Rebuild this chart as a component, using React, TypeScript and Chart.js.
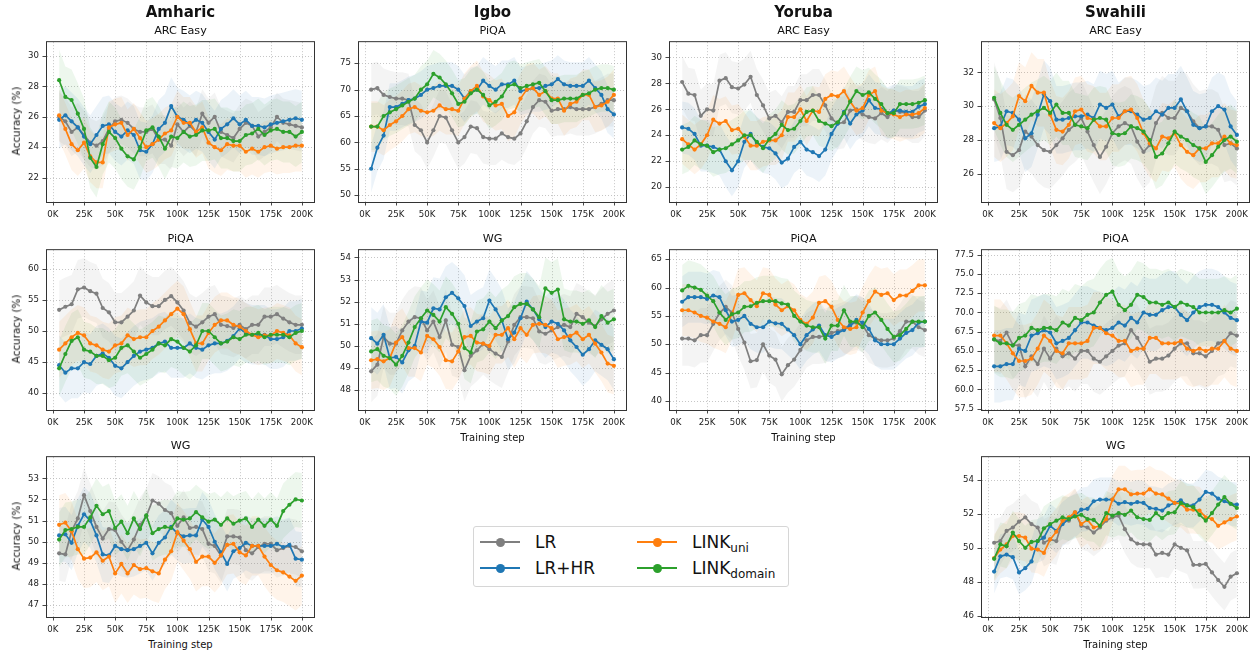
import React, { useEffect, useRef } from 'react';
import { Chart, registerables } from 'chart.js';

Chart.register(...registerables);

// ---------------- data ----------------
const steps = [5, 10, 15, 20, 25, 30, 35, 40, 45, 50, 55, 60, 65, 70, 75, 80, 85, 90, 95, 100,
  105, 110, 115, 120, 125, 130, 135, 140, 145, 150, 155, 160, 165, 170, 175, 180, 185, 190, 195, 200];
const xTickValues = [0, 25, 50, 75, 100, 125, 150, 175, 200];
const xTickLabels = ['0K', '25K', '50K', '75K', '100K', '125K', '150K', '175K', '200K'];
const seriesColors = ['#7f7f7f', '#1f77b4', '#ff7f0e', '#2ca02c'];
const languages = ['Amharic', 'Igbo', 'Yoruba', 'Swahili'];

// Amharic ARC Easy
const amhArcLR = [26.0, 25.7, 25.0, 25.3, 24.8, 24.3, 24.1, 24.4, 25.2, 25.7, 25.8, 25.6, 25.2, 25.0, 25.0, 25.2, 24.5, 24.5, 24.1, 25.5, 25.0, 25.4, 25.0, 26.2, 25.6, 26.0, 25.0, 24.8, 24.6, 25.2, 25.6, 25.4, 24.7, 25.0, 25.3, 26.0, 25.6, 25.5, 25.4, 25.3];
const amhArcLRHR = [25.8, 26.1, 25.7, 25.3, 24.7, 24.2, 24.8, 25.4, 25.5, 25.0, 24.7, 25.1, 24.8, 23.8, 23.7, 24.2, 25.2, 25.6, 26.7, 26.0, 25.8, 25.5, 25.8, 25.6, 25.0, 24.5, 25.2, 25.5, 25.9, 25.5, 25.8, 25.4, 25.4, 25.3, 25.5, 25.6, 25.7, 25.8, 25.9, 25.8];
const amhArcUni = [26.1, 25.2, 24.2, 23.8, 24.3, 23.4, 23.0, 23.0, 25.3, 25.5, 25.6, 24.8, 25.2, 24.6, 24.0, 24.2, 24.5, 24.9, 25.1, 26.0, 25.6, 25.6, 25.0, 25.3, 24.3, 24.0, 23.8, 24.2, 24.1, 24.1, 23.7, 23.9, 23.7, 24.0, 24.1, 23.9, 24.0, 24.0, 24.1, 24.1];
const amhArcDom = [28.4, 27.3, 27.1, 26.2, 25.2, 23.3, 22.7, 24.2, 25.0, 24.6, 23.9, 23.4, 23.2, 24.0, 25.1, 25.3, 24.7, 23.9, 24.7, 24.6, 25.0, 24.7, 24.8, 25.1, 25.1, 25.2, 24.6, 24.6, 24.4, 24.4, 24.8, 24.9, 25.2, 24.8, 25.1, 25.2, 25.0, 25.0, 24.7, 25.0];

// Igbo PiQA
const igbPiqaLR = [70.0, 70.3, 69.0, 68.6, 68.3, 68.3, 68.0, 63.3, 62.3, 60.0, 62.3, 65.0, 64.7, 62.3, 60.0, 61.0, 63.0, 62.7, 61.0, 60.7, 60.7, 61.7, 61.0, 60.7, 61.7, 64.0, 66.7, 68.0, 67.7, 66.0, 66.3, 66.3, 66.7, 66.3, 66.3, 66.3, 66.7, 67.3, 68.0, 68.0];
const igbPiqaLRHR = [55.0, 59.0, 61.3, 66.7, 66.7, 67.3, 68.0, 68.3, 69.0, 70.0, 70.3, 70.7, 70.7, 70.7, 70.0, 68.3, 69.7, 70.0, 71.7, 70.7, 70.0, 71.0, 71.0, 71.7, 69.7, 70.0, 70.3, 70.3, 70.7, 71.0, 72.0, 71.0, 70.7, 70.7, 70.7, 71.7, 70.3, 69.0, 66.3, 65.3];
const igbPiqaUni = [63.0, 63.0, 62.3, 63.3, 64.0, 65.0, 66.3, 66.7, 66.0, 65.7, 66.0, 67.0, 66.3, 66.3, 66.0, 68.3, 69.7, 70.7, 68.7, 68.0, 67.0, 67.3, 65.0, 65.7, 68.3, 70.0, 70.3, 69.0, 69.7, 68.3, 68.3, 66.0, 67.3, 67.7, 69.0, 69.0, 66.7, 67.0, 67.7, 69.0];
const igbPiqaDom = [63.0, 63.0, 65.0, 65.7, 66.3, 67.0, 67.7, 68.3, 70.0, 71.0, 73.0, 72.3, 71.0, 69.3, 67.3, 67.7, 69.3, 70.0, 69.0, 67.0, 67.7, 68.7, 70.7, 71.0, 70.3, 70.7, 71.0, 71.3, 69.7, 68.0, 68.0, 68.3, 68.3, 68.3, 69.0, 69.3, 70.0, 70.3, 70.3, 70.0];

// Yoruba ARC Easy
const yorArcLR = [28.1, 27.2, 27.1, 25.5, 26.0, 25.9, 28.2, 28.4, 27.7, 27.6, 27.9, 28.5, 27.1, 26.3, 25.3, 25.5, 25.0, 25.8, 25.8, 26.7, 26.7, 27.1, 27.1, 26.3, 25.3, 24.9, 25.0, 25.9, 26.0, 25.6, 25.4, 25.3, 25.7, 25.4, 25.9, 25.8, 25.7, 25.4, 25.4, 25.9];
const yorArcLRHR = [24.6, 24.5, 24.1, 23.2, 23.2, 23.1, 22.9, 22.0, 21.3, 22.0, 23.5, 24.1, 23.4, 23.1, 23.0, 22.6, 21.9, 22.2, 23.1, 23.5, 22.9, 22.7, 22.4, 22.9, 24.1, 24.9, 25.8, 24.9, 25.6, 25.9, 26.7, 26.1, 26.0, 25.7, 25.9, 25.9, 25.8, 25.8, 26.2, 26.4];
const yorArcUni = [23.7, 23.3, 22.9, 23.3, 24.0, 25.2, 24.9, 25.1, 24.4, 24.5, 23.9, 23.2, 23.2, 23.5, 23.6, 23.6, 24.0, 25.4, 25.4, 26.0, 25.1, 25.9, 25.8, 26.8, 27.1, 27.0, 27.4, 26.6, 25.9, 26.1, 27.1, 27.4, 25.9, 25.7, 25.6, 25.4, 25.6, 25.6, 25.7, 26.1];
const yorArcDom = [22.9, 23.1, 23.6, 23.3, 23.2, 22.7, 22.9, 23.0, 23.3, 23.6, 24.0, 24.0, 23.5, 23.0, 23.7, 24.1, 24.8, 24.4, 24.5, 25.1, 25.8, 25.9, 25.1, 24.9, 24.7, 25.0, 25.7, 26.6, 27.4, 27.1, 27.3, 26.8, 26.4, 25.7, 25.7, 26.4, 26.4, 26.4, 26.5, 26.7];

// Swahili ARC Easy
const swaArcLR = [30.4, 29.3, 27.3, 27.1, 27.4, 28.5, 28.2, 27.7, 27.4, 27.3, 27.7, 28.1, 28.6, 28.9, 29.3, 28.5, 27.7, 27.0, 27.6, 28.4, 28.8, 29.0, 28.8, 27.9, 27.3, 27.7, 29.0, 29.6, 29.3, 29.3, 29.9, 29.7, 29.1, 28.7, 28.8, 28.8, 28.6, 27.7, 27.8, 27.5];
const swaArcLRHR = [28.7, 28.8, 29.7, 29.6, 29.2, 28.1, 28.4, 29.5, 30.7, 30.3, 29.2, 29.2, 29.3, 29.4, 29.4, 29.5, 29.3, 30.1, 29.9, 30.1, 29.4, 29.7, 29.7, 29.5, 29.2, 29.3, 29.7, 29.5, 29.9, 29.9, 30.4, 29.7, 28.9, 28.7, 28.8, 29.7, 30.0, 29.8, 28.8, 28.3];
const swaArcUni = [29.0, 28.7, 29.0, 29.4, 30.6, 30.3, 31.2, 30.8, 30.8, 29.5, 28.6, 28.5, 28.9, 29.7, 29.8, 29.3, 29.2, 28.8, 28.8, 29.3, 29.3, 29.7, 29.8, 29.3, 28.4, 27.8, 27.5, 28.2, 28.1, 28.4, 27.7, 27.3, 27.1, 27.5, 27.5, 27.8, 27.8, 28.2, 27.8, 27.7];
const swaArcDom = [30.5, 29.6, 28.9, 28.6, 28.9, 29.2, 29.5, 29.7, 29.9, 29.6, 30.1, 29.6, 29.6, 28.9, 28.8, 28.7, 29.2, 29.3, 29.2, 28.4, 28.3, 28.4, 28.8, 28.7, 28.5, 28.0, 27.0, 27.2, 27.8, 28.5, 28.2, 28.0, 27.7, 27.5, 26.7, 27.1, 27.6, 28.0, 28.2, 27.9];

// Amharic PiQA
const amhPiqaLR = [53.4, 53.9, 54.3, 56.7, 57.0, 56.4, 56.0, 53.7, 53.0, 51.4, 51.4, 52.3, 53.3, 55.7, 54.6, 54.0, 54.0, 55.0, 55.6, 54.6, 53.3, 51.3, 50.7, 51.4, 52.3, 52.7, 51.0, 50.8, 50.5, 51.0, 50.3, 51.0, 51.0, 52.3, 52.3, 52.7, 52.0, 51.4, 51.0, 51.0];
const amhPiqaLRHR = [44.5, 43.3, 44.0, 44.0, 45.0, 44.7, 46.0, 46.4, 45.7, 44.4, 44.0, 45.0, 46.0, 46.7, 47.0, 47.3, 48.0, 48.3, 47.3, 47.3, 47.3, 48.0, 47.3, 47.0, 47.7, 48.0, 48.0, 48.4, 49.2, 50.4, 49.7, 49.4, 49.4, 49.4, 48.7, 48.7, 49.0, 50.0, 50.0, 50.4];
const amhPiqaUni = [47.0, 48.0, 49.0, 49.7, 49.3, 48.0, 47.7, 47.0, 46.7, 47.7, 48.0, 49.3, 48.7, 49.0, 49.0, 50.0, 50.7, 51.7, 52.7, 53.6, 52.7, 50.3, 48.0, 48.0, 49.7, 51.0, 51.7, 51.7, 51.0, 50.7, 50.0, 49.4, 49.0, 49.3, 49.3, 50.0, 49.7, 49.3, 48.0, 47.4];
const amhPiqaDom = [44.0, 46.3, 48.4, 49.0, 47.0, 46.7, 46.0, 46.0, 45.3, 45.7, 47.3, 47.7, 46.7, 45.7, 46.3, 47.0, 48.0, 47.7, 48.7, 48.3, 47.3, 46.7, 47.7, 50.0, 50.0, 49.0, 48.0, 48.3, 49.0, 48.7, 49.4, 49.4, 49.7, 49.0, 49.4, 49.4, 49.4, 49.0, 49.7, 50.0];

// Igbo WG
const igbWgLR = [48.85, 49.15, 50.4, 50.1, 50.1, 50.7, 51.1, 51.3, 51.25, 50.7, 51.1, 50.4, 51.15, 50.05, 49.95, 48.9, 49.55, 49.8, 50.1, 49.85, 49.65, 49.5, 50.2, 50.95, 51.3, 51.3, 51.25, 50.65, 50.55, 50.7, 50.85, 50.95, 50.85, 51.45, 51.3, 51.05, 50.9, 51.2, 51.45, 51.6];
const igbWgLRHR = [50.35, 50.1, 50.5, 49.45, 49.5, 49.25, 49.8, 50.0, 51.1, 51.05, 51.7, 51.65, 52.2, 52.4, 52.15, 51.8, 50.9, 51.1, 51.25, 52.05, 51.65, 51.15, 50.3, 50.6, 51.25, 52.0, 51.65, 51.2, 50.85, 51.1, 51.0, 50.7, 50.25, 49.95, 49.6, 49.85, 50.25, 50.05, 49.85, 49.4];
const igbWgUni = [49.35, 49.4, 49.3, 49.45, 50.15, 50.4, 49.9, 49.9, 49.7, 50.45, 50.3, 49.95, 49.35, 49.3, 49.75, 50.4, 50.45, 50.15, 50.1, 50.0, 50.5, 50.5, 50.8, 50.3, 50.8, 50.5, 50.95, 51.0, 50.95, 50.8, 50.3, 50.4, 50.45, 50.6, 50.3, 50.5, 50.1, 49.7, 49.2, 49.1];
const igbWgDom = [49.75, 49.85, 49.55, 49.45, 49.15, 49.55, 50.15, 50.85, 51.25, 51.6, 51.4, 51.1, 51.75, 51.45, 51.0, 49.9, 49.7, 50.65, 50.75, 51.1, 50.8, 51.15, 51.35, 51.75, 51.9, 51.9, 51.65, 51.3, 52.6, 52.4, 52.55, 51.2, 51.1, 51.1, 51.0, 51.15, 50.85, 51.35, 51.05, 51.2];

// Yoruba PiQA
const yorPiqaLR = [51.0, 51.0, 50.7, 51.6, 51.6, 53.6, 55.5, 56.6, 55.6, 52.7, 50.3, 47.0, 47.2, 50.0, 48.0, 47.3, 44.7, 46.3, 47.3, 49.0, 50.7, 51.3, 51.3, 51.5, 52.0, 52.3, 52.7, 53.5, 53.8, 53.4, 51.6, 51.0, 50.7, 50.7, 51.0, 52.3, 54.0, 54.0, 53.0, 52.5];
const yorPiqaLRHR = [57.5, 58.3, 58.3, 58.3, 58.0, 58.6, 58.3, 56.0, 54.0, 54.3, 55.0, 53.6, 53.0, 53.0, 54.0, 53.7, 53.6, 52.6, 51.6, 50.0, 51.6, 52.6, 53.3, 51.6, 51.3, 52.0, 52.5, 53.3, 54.3, 53.8, 52.7, 50.7, 50.0, 50.0, 50.0, 51.0, 52.0, 52.5, 53.8, 54.0];
const yorPiqaUni = [56.0, 56.0, 55.6, 55.0, 54.7, 54.0, 53.6, 53.0, 55.3, 58.7, 59.0, 57.8, 56.7, 59.0, 58.7, 57.0, 56.0, 56.7, 56.0, 54.3, 53.6, 54.7, 57.3, 57.6, 56.6, 54.3, 53.0, 52.7, 53.0, 55.6, 57.6, 59.3, 58.7, 59.0, 57.8, 58.6, 58.6, 59.4, 60.4, 60.4];
const yorPiqaDom = [59.5, 60.3, 60.0, 59.6, 58.6, 57.6, 55.6, 54.3, 55.3, 55.6, 56.6, 56.7, 57.3, 57.6, 57.6, 57.6, 57.2, 57.0, 55.0, 54.0, 53.3, 53.0, 53.0, 51.0, 53.3, 53.3, 56.0, 54.0, 54.0, 53.0, 55.0, 55.6, 54.3, 52.7, 51.3, 51.6, 52.7, 54.0, 54.0, 54.0];

// Swahili PiQA
const swaPiqaLR = [66.5, 66.3, 67.4, 65.8, 65.7, 63.0, 64.3, 63.3, 65.3, 64.0, 65.3, 64.3, 64.7, 64.0, 65.0, 65.0, 64.0, 63.6, 64.3, 65.0, 65.7, 66.0, 67.7, 66.7, 65.3, 63.6, 64.0, 64.0, 64.4, 65.3, 66.0, 66.0, 64.7, 64.7, 64.3, 65.0, 66.0, 66.3, 67.3, 67.0];
const swaPiqaLRHR = [63.0, 63.0, 63.3, 63.3, 65.3, 65.0, 67.0, 67.3, 67.7, 67.4, 66.0, 66.3, 66.7, 67.7, 68.7, 68.7, 68.3, 68.0, 67.7, 68.0, 68.7, 68.3, 69.3, 68.7, 70.0, 69.7, 69.7, 70.3, 70.7, 70.7, 69.7, 69.0, 70.0, 70.7, 71.0, 71.0, 70.7, 70.0, 69.3, 69.0];
const swaPiqaUni = [67.0, 67.0, 66.0, 64.7, 63.7, 63.7, 64.0, 65.3, 67.0, 66.3, 65.0, 64.7, 66.0, 66.0, 66.0, 66.3, 68.0, 68.0, 67.3, 67.0, 66.3, 66.3, 65.0, 65.3, 65.3, 66.7, 66.7, 66.0, 66.0, 66.0, 66.3, 65.3, 65.0, 65.3, 65.0, 65.3, 65.3, 66.3, 65.3, 65.0];
const swaPiqaDom = [66.5, 66.0, 66.0, 65.7, 66.7, 67.0, 68.0, 67.7, 68.0, 68.0, 67.7, 68.7, 68.3, 69.3, 69.0, 69.7, 70.0, 71.3, 72.3, 72.7, 71.0, 70.3, 71.0, 72.3, 72.0, 71.3, 71.3, 71.0, 71.3, 70.7, 71.3, 71.0, 70.7, 70.0, 70.0, 70.0, 70.0, 70.3, 70.0, 70.5];

// Amharic WG
const amhWgLR = [49.45, 49.4, 50.5, 51.1, 52.2, 51.45, 50.7, 50.15, 50.6, 50.55, 50.0, 49.6, 50.1, 50.8, 51.2, 51.95, 51.8, 51.5, 51.35, 50.75, 51.15, 50.65, 50.7, 50.6, 49.9, 49.8, 49.35, 50.25, 50.25, 50.2, 49.6, 49.45, 49.75, 49.9, 49.9, 49.6, 49.7, 49.8, 49.75, 49.55];
const amhWgLRHR = [50.3, 50.35, 49.95, 50.75, 51.3, 51.0, 50.3, 49.4, 49.35, 49.8, 49.65, 49.6, 49.65, 49.8, 49.95, 49.45, 49.95, 50.2, 50.7, 50.4, 50.25, 50.3, 50.3, 51.05, 50.7, 50.0, 49.5, 48.95, 49.55, 49.7, 49.95, 49.8, 49.8, 49.8, 49.8, 49.9, 49.75, 49.85, 49.2, 49.15];
const amhWgUni = [50.8, 50.9, 50.5, 49.65, 49.2, 49.25, 49.5, 49.1, 49.3, 48.5, 48.95, 48.5, 48.9, 48.7, 48.75, 48.6, 48.5, 49.15, 49.55, 50.45, 50.05, 49.65, 49.05, 49.3, 49.3, 49.0, 49.35, 49.85, 49.9, 49.5, 49.35, 49.8, 49.8, 49.3, 48.9, 48.65, 48.55, 48.35, 48.15, 48.4];
const amhWgDom = [50.1, 50.55, 50.6, 50.7, 50.7, 51.15, 51.7, 51.3, 51.45, 50.65, 50.95, 50.4, 51.1, 50.6, 51.25, 50.4, 50.6, 50.7, 50.65, 51.1, 51.05, 51.1, 51.4, 51.15, 50.95, 51.05, 50.8, 51.1, 50.85, 51.0, 51.1, 50.7, 51.05, 50.75, 51.05, 50.75, 51.45, 51.75, 52.0, 51.95];

// Swahili WG
const swaWgLR = [50.3, 50.4, 51.0, 51.2, 51.55, 51.8, 51.4, 51.2, 50.3, 50.5, 50.4, 51.6, 51.6, 52.1, 51.3, 51.2, 50.9, 51.2, 51.6, 51.8, 51.9, 51.1, 50.5, 50.25, 50.2, 50.2, 49.6, 49.7, 49.6, 50.2, 50.0, 49.85, 49.0, 49.0, 49.05, 48.55, 48.1, 47.7, 48.3, 48.5];
const swaWgLRHR = [48.6, 49.5, 49.6, 49.45, 48.55, 48.8, 49.2, 50.4, 50.6, 51.3, 51.0, 51.4, 51.7, 51.9, 52.25, 52.3, 52.75, 52.85, 52.85, 52.85, 52.6, 52.7, 52.6, 52.7, 52.65, 52.35, 52.3, 52.2, 52.5, 52.65, 52.8, 52.5, 52.5, 52.85, 53.3, 53.2, 52.9, 52.75, 52.6, 52.55];
const swaWgUni = [49.4, 49.9, 50.2, 50.7, 50.7, 50.6, 49.95, 49.9, 49.7, 50.5, 50.95, 51.6, 51.8, 52.1, 51.4, 51.65, 51.2, 51.3, 51.7, 52.85, 53.45, 53.45, 53.15, 53.2, 53.2, 53.45, 53.2, 53.15, 52.9, 52.65, 52.6, 52.25, 52.25, 52.2, 51.8, 51.7, 51.3, 51.5, 51.7, 51.85];
const swaWgDom = [49.35, 50.2, 50.1, 50.9, 50.4, 50.0, 50.35, 50.4, 51.15, 51.4, 51.6, 51.8, 51.7, 51.85, 51.95, 51.7, 51.65, 51.3, 52.05, 51.9, 52.05, 51.95, 52.2, 51.8, 51.7, 51.65, 52.05, 51.75, 52.05, 52.1, 52.65, 52.5, 52.4, 51.95, 51.6, 52.05, 52.55, 53.0, 52.6, 52.35];

// band half-widths (LR, LR+HR, LINK_uni, LINK_domain)
const amhArcSpread = [1.6, 1.9, 1.7, 2.0];
const igbPiqaSpread = [5.0, 4.5, 4.8, 4.5];
const yorArcSpread = [2.0, 2.0, 1.9, 1.9];
const swaArcSpread = [2.2, 2.0, 2.0, 1.9];
const amhPiqaSpread = [4.7, 4.8, 4.5, 4.5];
const igbWgSpread = [1.4, 1.4, 1.3, 1.4];
const yorPiqaSpread = [4.8, 4.5, 4.6, 4.5];
const swaPiqaSpread = [4.3, 4.7, 4.7, 4.4];
const amhWgSpread = [1.3, 1.3, 1.4, 1.3];
const swaWgSpread = [1.4, 1.3, 1.4, 1.3];

// y tick values and labels
const amhArcTicks = [22, 24, 26, 28, 30];
const igbPiqaTicks = [50, 55, 60, 65, 70, 75];
const yorArcTicks = [20, 22, 24, 26, 28, 30];
const swaArcTicks = [26, 28, 30, 32];
const amhPiqaTicks = [40, 45, 50, 55, 60];
const igbWgTicks = [48, 49, 50, 51, 52, 53, 54];
const yorPiqaTicks = [40, 45, 50, 55, 60, 65];
const swaPiqaTicks = [57.5, 60.0, 62.5, 65.0, 67.5, 70.0, 72.5, 75.0, 77.5];
const swaPiqaTickLabels = ['57.5', '60.0', '62.5', '65.0', '67.5', '70.0', '72.5', '75.0', '77.5'];
const amhWgTicks = [47, 48, 49, 50, 51, 52, 53];
const swaWgTicks = [46, 48, 50, 52, 54];

// ---------------- layout ----------------
const COL_LEFT = [47, 359, 670, 982];
const ROW_TOP = [39, 247, 454];
const PLOT_W = 267;
const PLOT_H = 163;
const YAXIS_W = 40;
const PAD_TOP = 10;
const PAD_RIGHT = 22;
const XAXIS_H = 22;
const FONT = '"DejaVu Sans", "Liberation Sans", sans-serif';

type PanelCfg = {
  col: number; row: number; title: string;
  series: number[][]; spread: number[];
  yMin: number; yMax: number; yTicks: number[]; yLabels?: string[];
  yLabel: boolean; xLabel: boolean;
};

const panels: PanelCfg[] = [
  { col: 0, row: 0, title: 'ARC Easy', series: [amhArcLR, amhArcLRHR, amhArcUni, amhArcDom], spread: amhArcSpread, yMin: 20.4, yMax: 30.9, yTicks: amhArcTicks, yLabel: true, xLabel: false },
  { col: 1, row: 0, title: 'PiQA', series: [igbPiqaLR, igbPiqaLRHR, igbPiqaUni, igbPiqaDom], spread: igbPiqaSpread, yMin: 48.7, yMax: 79.0, yTicks: igbPiqaTicks, yLabel: false, xLabel: false },
  { col: 2, row: 0, title: 'ARC Easy', series: [yorArcLR, yorArcLRHR, yorArcUni, yorArcDom], spread: yorArcSpread, yMin: 18.86, yMax: 31.17, yTicks: yorArcTicks, yLabel: false, xLabel: false },
  { col: 3, row: 0, title: 'ARC Easy', series: [swaArcLR, swaArcLRHR, swaArcUni, swaArcDom], spread: swaArcSpread, yMin: 24.33, yMax: 33.79, yTicks: swaArcTicks, yLabel: false, xLabel: false },
  { col: 0, row: 1, title: 'PiQA', series: [amhPiqaLR, amhPiqaLRHR, amhPiqaUni, amhPiqaDom], spread: amhPiqaSpread, yMin: 37.3, yMax: 63.0, yTicks: amhPiqaTicks, yLabel: true, xLabel: false },
  { col: 1, row: 1, title: 'WG', series: [igbWgLR, igbWgLRHR, igbWgUni, igbWgDom], spread: igbWgSpread, yMin: 47.1, yMax: 54.33, yTicks: igbWgTicks, yLabel: false, xLabel: true },
  { col: 2, row: 1, title: 'PiQA', series: [yorPiqaLR, yorPiqaLRHR, yorPiqaUni, yorPiqaDom], spread: yorPiqaSpread, yMin: 38.4, yMax: 66.6, yTicks: yorPiqaTicks, yLabel: false, xLabel: true },
  { col: 3, row: 1, title: 'PiQA', series: [swaPiqaLR, swaPiqaLRHR, swaPiqaUni, swaPiqaDom], spread: swaPiqaSpread, yMin: 57.33, yMax: 78.1, yTicks: swaPiqaTicks, yLabels: swaPiqaTickLabels, yLabel: false, xLabel: false },
  { col: 0, row: 2, title: 'WG', series: [amhWgLR, amhWgLRHR, amhWgUni, amhWgDom], spread: amhWgSpread, yMin: 46.44, yMax: 54.0, yTicks: amhWgTicks, yLabel: true, xLabel: true },
  { col: 3, row: 2, title: 'WG', series: [swaWgLR, swaWgLRHR, swaWgUni, swaWgDom], spread: swaWgSpread, yMin: 45.92, yMax: 55.35, yTicks: swaWgTicks, yLabel: false, xLabel: true },
];

function rgba(hex: string, a: number) {
  const n = parseInt(hex.slice(1), 16);
  return `rgba(${(n >> 16) & 255},${(n >> 8) & 255},${n & 255},${a})`;
}

const framePlugin = {
  id: 'mplFrame',
  beforeDatasetsDraw(chart: any) {
    const { ctx, chartArea: a, scales } = chart;
    ctx.save();
    ctx.strokeStyle = 'rgba(176,176,176,0.9)';
    ctx.lineWidth = 0.8;
    ctx.setLineDash([1, 2]);
    scales.x.ticks.forEach((t: any) => {
      const px = Math.round(scales.x.getPixelForValue(t.value)) + 0.5;
      ctx.beginPath(); ctx.moveTo(px, a.top); ctx.lineTo(px, a.bottom); ctx.stroke();
    });
    scales.y.ticks.forEach((t: any) => {
      const py = Math.round(scales.y.getPixelForValue(t.value)) + 0.5;
      ctx.beginPath(); ctx.moveTo(a.left, py); ctx.lineTo(a.right, py); ctx.stroke();
    });
    ctx.restore();
  },
  afterDatasetsDraw(chart: any) {
    const { ctx, chartArea: a, scales } = chart;
    ctx.save();
    ctx.strokeStyle = '#333333';
    ctx.lineWidth = 1;
    ctx.strokeRect(a.left - 0.5, a.top - 0.5, a.right - a.left + 1, a.bottom - a.top + 1);
    ctx.lineWidth = 0.9;
    scales.x.ticks.forEach((t: any) => {
      const px = Math.round(scales.x.getPixelForValue(t.value)) + 0.5;
      ctx.beginPath(); ctx.moveTo(px, a.bottom); ctx.lineTo(px, a.bottom + 3.5); ctx.stroke();
    });
    scales.y.ticks.forEach((t: any) => {
      const py = Math.round(scales.y.getPixelForValue(t.value)) + 0.5;
      ctx.beginPath(); ctx.moveTo(a.left - 1, py); ctx.lineTo(a.left - 4.5, py); ctx.stroke();
    });
    ctx.restore();
  },
};

function Label({ x, y, size, bold, rotate, children }: any) {
  return (
    <div style={{
      position: 'absolute', left: x, top: y,
      transform: `translate(-50%, -50%)${rotate ? ' rotate(-90deg)' : ''}`,
      fontFamily: FONT, fontSize: size, fontWeight: bold ? 700 : 400,
      lineHeight: 1, whiteSpace: 'nowrap', color: '#111',
    }}>{children}</div>
  );
}

function Panel({ cfg }: { cfg: PanelCfg }) {
  const ref = useRef<HTMLCanvasElement>(null);
  const plotLeft = COL_LEFT[cfg.col];
  const plotTop = ROW_TOP[cfg.row];
  const cw = YAXIS_W + PLOT_W + PAD_RIGHT;
  const ch = PAD_TOP + PLOT_H + XAXIS_H;

  useEffect(() => {
    if (!ref.current) return;
    const datasets: any[] = [];
    cfg.series.forEach((vals, i) => {
      const s = cfg.spread[i];
      datasets.push({
        data: steps.map((x, j) => ({ x, y: vals[j] + s })),
        fill: '+1', backgroundColor: rgba(seriesColors[i], 0.085),
        borderWidth: 0, pointRadius: 0, order: 20 + i,
      });
      datasets.push({
        data: steps.map((x, j) => ({ x, y: vals[j] - s })),
        fill: false, borderWidth: 0, pointRadius: 0, order: 20 + i,
      });
    });
    cfg.series.forEach((vals, i) => {
      datasets.push({
        data: steps.map((x, j) => ({ x, y: vals[j] })),
        borderColor: seriesColors[i], backgroundColor: seriesColors[i],
        pointBackgroundColor: seriesColors[i], pointBorderWidth: 0,
        borderWidth: 1.7, pointRadius: 2.1, fill: false, tension: 0,
        order: 4 - i,
      });
    });

    const chart = new Chart(ref.current, {
      type: 'line',
      data: { datasets },
      plugins: [framePlugin],
      options: {
        responsive: false, animation: false, maintainAspectRatio: false,
        devicePixelRatio: 1, events: [],
        layout: { padding: { top: PAD_TOP, right: PAD_RIGHT, left: 0, bottom: 0 } },
        plugins: { legend: { display: false }, tooltip: { enabled: false }, title: { display: false } },
        scales: {
          x: {
            type: 'linear', min: -4.75, max: 209.75,
            afterBuildTicks: (scale: any) => { scale.ticks = xTickValues.map((v) => ({ value: v })); },
            afterFit: (scale: any) => { scale.height = XAXIS_H; },
            grid: { display: false, drawTicks: false },
            border: { display: false },
            ticks: {
              autoSkip: false, maxRotation: 0, minRotation: 0, padding: 8,
              color: '#222', font: { family: FONT, size: 8.6 },
              callback: (_v: any, idx: number) => xTickLabels[idx],
            },
          },
          y: {
            type: 'linear', min: cfg.yMin, max: cfg.yMax,
            afterBuildTicks: (scale: any) => { scale.ticks = cfg.yTicks.map((v) => ({ value: v })); },
            afterFit: (scale: any) => { scale.width = YAXIS_W; },
            grid: { display: false, drawTicks: false },
            border: { display: false },
            ticks: {
              autoSkip: false, padding: 8,
              color: '#222', font: { family: FONT, size: 8.6 },
              callback: (v: any, idx: number) => (cfg.yLabels ? cfg.yLabels[idx] : String(cfg.yTicks[idx])),
            },
          },
        },
      } as any,
    });
    return () => chart.destroy();
  }, [cfg]);

  const cx = plotLeft + PLOT_W / 2;
  return (
    <>
      <canvas ref={ref} width={cw} height={ch}
        style={{ position: 'absolute', left: plotLeft - YAXIS_W, top: plotTop - PAD_TOP, width: cw, height: ch }} />
      <Label x={cx} y={plotTop - 8.5} size={11.2}>{cfg.title}</Label>
      {cfg.row === 0 && <Label x={cx} y={12} size={15} bold>{languages[cfg.col]}</Label>}
      {cfg.yLabel && <Label x={15.5} y={plotTop + PLOT_H / 2} size={10.4} rotate>Accuracy (%)</Label>}
      {cfg.xLabel && <Label x={cx} y={plotTop + PLOT_H + 28} size={10}>Training step</Label>}
    </>
  );
}

const legendNames = ['LR', 'LR+HR', 'LINK', 'LINK'];
const legendSubs = ['', '', 'uni', 'domain'];

function Legend() {
  const boxL = 473, boxT = 526, boxW = 316, boxH = 61;
  const rowsY = [542, 568];
  const colsX = [480, 637];
  return (
    <div>
      <div style={{ position: 'absolute', left: boxL, top: boxT, width: boxW, height: boxH, border: '1px solid #d6d6d6', borderRadius: 3, boxSizing: 'border-box', background: 'rgba(255,255,255,0.8)' }} />
      {legendNames.map((name, i) => {
        const col = i < 2 ? 0 : 1;
        const row = i % 2;
        const lx = colsX[col];
        const ly = rowsY[row];
        return (
          <React.Fragment key={i}>
            <div style={{ position: 'absolute', left: lx, top: ly - 1.25, width: 40, height: 2.5, background: seriesColors[i] }} />
            <div style={{ position: 'absolute', left: lx + 20 - 4.5, top: ly - 4.5, width: 9, height: 9, borderRadius: '50%', background: seriesColors[i] }} />
            <div style={{ position: 'absolute', left: lx + 55, top: ly, transform: 'translateY(-50%)', fontFamily: FONT, fontSize: 17, lineHeight: 1, whiteSpace: 'nowrap', color: '#111' }}>
              {name}
              {legendSubs[i] && <span style={{ fontSize: 12, position: 'relative', top: 4 }}>{legendSubs[i]}</span>}
            </div>
          </React.Fragment>
        );
      })}
    </div>
  );
}

export default function App() {
  return (
    <div style={{ position: 'absolute', left: 0, top: 0, width: 1255, height: 654, background: '#ffffff', overflow: 'hidden' }}>
      {panels.map((p, i) => <Panel key={i} cfg={p} />)}
      <Legend />
    </div>
  );
}
